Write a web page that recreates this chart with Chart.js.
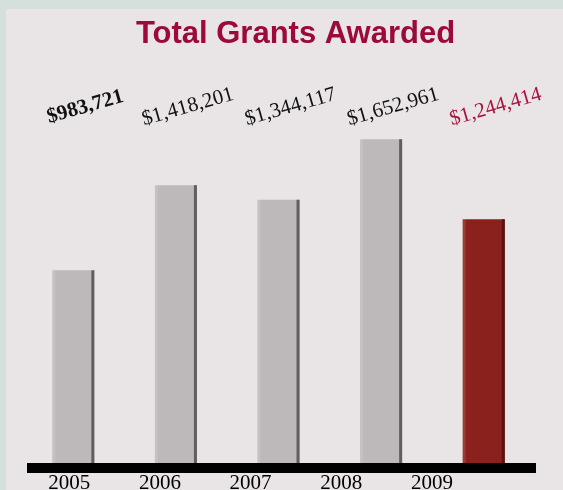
<!DOCTYPE html>
<html>
<head>
<meta charset="utf-8">
<script src="https://cdn.jsdelivr.net/npm/chart.js@4"></script>
<style>
  html, body { margin: 0; padding: 0; background: #d5dfdb; }
  #panel { position: absolute; left: 6px; top: 9px; width: 557px; height: 481px; background: #e9e4e5; }
  #wrap { position: absolute; left: 0; top: 0; width: 563px; height: 490px; }
</style>
</head>
<body>
<div id="panel"></div>
<div id="wrap"><canvas id="grants"></canvas></div>
<script>
"use strict";

const chartTitle = 'Total Grants Awarded';
const years = ['2005', '2006', '2007', '2008', '2009'];
const grants = [983721, 1418201, 1344117, 1652961, 1244414];
const valueLabels = ['$983,721', '$1,418,201', '$1,344,117', '$1,652,961', '$1,244,414'];

const GRAY = '#bdb8b9';
const GRAY_EDGE = '#625d5e';
const RED = '#8b211d';
const RED_EDGE = '#5a1411';
const CRIMSON = '#9b0a3a';
const SERIF = '"Liberation Serif", "Times New Roman", serif';

const titlePlugin = {
  id: 'titleText',
  afterDraw(chart) {
    const ctx = chart.ctx;
    ctx.save();
    ctx.font = 'bold 31px "Liberation Sans", Arial, sans-serif';
    ctx.fillStyle = CRIMSON;
    ctx.textAlign = 'center';
    ctx.textBaseline = 'alphabetic';
    ctx.fillText(chartTitle, chart.width / 2 + 14, 43);
    ctx.restore();
  }
};

const barDecor = {
  id: 'barDecor',
  afterDatasetsDraw(chart) {
    const ctx = chart.ctx;
    const area = chart.chartArea;
    const meta = chart.getDatasetMeta(0);
    ctx.save();
    meta.data.forEach((bar, i) => {
      const right = bar.x + bar.width / 2;
      const left = bar.x - bar.width / 2;
      const last = i === meta.data.length - 1;
      ctx.fillStyle = last ? RED_EDGE : GRAY_EDGE;
      ctx.fillRect(right - 3, bar.y, 3, bar.base - bar.y);
      ctx.fillStyle = 'rgba(255,255,255,0.12)';
      ctx.fillRect(left, bar.y, 3, bar.base - bar.y);
    });
    // thick black baseline
    ctx.fillStyle = '#000';
    ctx.fillRect(area.left + 5, area.bottom, area.right - area.left - 4, 10);
    // rotated value labels
    ctx.textAlign = 'center';
    ctx.textBaseline = 'middle';
    meta.data.forEach((bar, i) => {
      const last = i === meta.data.length - 1;
      ctx.save();
      ctx.translate(bar.x + 12, area.top - 23);
      ctx.rotate(-16 * Math.PI / 180);
      ctx.font = (i === 0 ? 'bold ' : '') + '21px ' + SERIF;
      ctx.fillStyle = last ? '#a8123f' : '#111';
      ctx.fillText(valueLabels[i], 0, 0);
      ctx.restore();
    });
    ctx.restore();
  }
};

new Chart(document.getElementById('grants'), {
  type: 'bar',
  data: {
    labels: years,
    datasets: [{
      data: grants,
      backgroundColor: grants.map((v, i) => i === grants.length - 1 ? RED : GRAY),
      borderWidth: 0,
      categoryPercentage: 1,
      barPercentage: 0.41
    }]
  },
  options: {
    responsive: true,
    maintainAspectRatio: false,
    animation: false,
    layout: { padding: { left: 22, right: 28, top: 130, bottom: 0 } },
    plugins: {
      legend: { display: false },
      title: { display: false },
      tooltip: { enabled: false }
    },
    scales: {
      x: { display: false },
      // year labels sit on their own axis, spaced tighter than the bars
      x2: {
        type: 'linear',
        position: 'bottom',
        offset: false,
        grid: { display: false, drawTicks: false, offset: false },
        border: { display: false },
        afterFit: (scale) => { scale.height = 27; },
        afterBuildTicks: (scale) => {
          scale.min = 2004.48;
          scale.max = 2010.135;
          scale.ticks = years.map(y => ({ value: Number(y) }));
        },
        ticks: {
          autoSkip: false,
          maxRotation: 0,
          padding: 8,
          color: '#000',
          font: { family: SERIF, size: 21 },
          callback: (v) => String(v)
        }
      },
      y: {
        display: false,
        min: 0,
        max: 1700000
      }
    }
  },
  plugins: [barDecor, titlePlugin]
});
</script>
</body>
</html>
